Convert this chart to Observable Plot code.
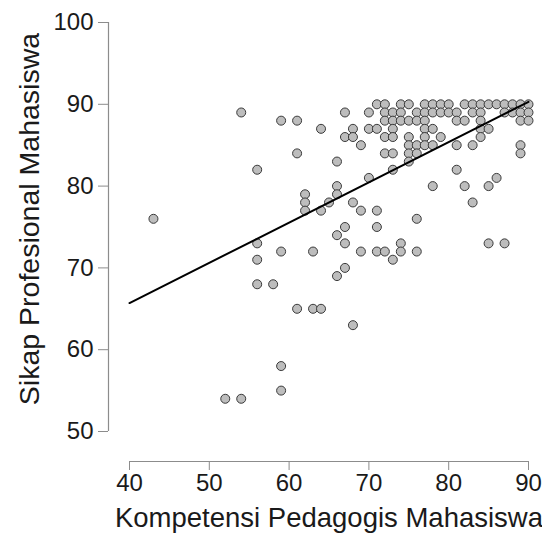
<!DOCTYPE html>
<html><head><meta charset="utf-8">
<script src="https://cdn.jsdelivr.net/npm/d3@7"></script>
<script src="https://cdn.jsdelivr.net/npm/@observablehq/plot@0.6"></script>
<style>body{margin:0;background:#fff}</style>
</head><body><div id="chart"></div>
<script>
// Kompetensi Pedagogis (x) and Sikap Profesional (y), listed row by row
const kompetensi = [
  71,72,74,75,77,78,79,80,82,83,84,85,86,87,88,89,90,      // 90
  54,67,70,72,73,74,76,77,78,79,80,81,83,84,87,88,89,90,   // 89
  59,61,72,73,74,75,76,77,81,82,84,89,90,                  // 88
  64,68,70,71,73,77,78,84,85,                              // 87
  67,68,72,73,75,77,79,84,                                 // 86
  69,75,76,77,78,81,83,89,                                 // 85
  61,72,73,75,76,89,                                       // 84
  66,75,                                                   // 83
  56,73,81,                                                // 82
  70,86,                                                   // 81
  66,78,82,85,                                             // 80
  62,66,                                                   // 79
  62,65,68,83,                                             // 78
  62,64,69,71,                                             // 77
  43,76,                                                   // 76
  67,71,                                                   // 75
  66,                                                      // 74
  56,67,74,85,87,                                          // 73
  59,63,69,71,72,74,76,                                    // 72
  56,73,                                                   // 71
  67,                                                      // 70
  66,                                                      // 69
  56,58,                                                   // 68
  61,63,64,                                                // 65
  68,                                                      // 63
  59,                                                      // 58
  59,                                                      // 55
  52,54                                                    // 54
];
const sikapRows = [90,89,88,87,86,85,84,83,82,81,80,79,78,77,76,75,74,73,72,71,70,69,68,65,63,58,55,54];
const rowCounts = [17,18,13,9,8,8,6,2,3,2,4,2,4,4,2,2,1,5,7,2,1,1,2,3,1,1,1,2];
const sikap = sikapRows.flatMap((v, i) => Array(rowCounts[i]).fill(v));

const xTicks = [40, 50, 60, 70, 80, 90];
const yTicks = [50, 60, 70, 80, 90, 100];
const fitX = [40, 90];
const fitY = [65.7, 90.3];

const points = kompetensi.map((x, i) => ({x, y: sikap[i]}));
const fit = fitX.map((x, i) => ({x, y: fitY[i]}));
const axisColor = "#8c8c8c";
const font = "'Liberation Sans', Arial, sans-serif";

const chart = Plot.plot({
  width: 542, height: 538,
  marginLeft: 129, marginRight: 14, marginTop: 22, marginBottom: 107,
  style: {fontFamily: font, background: "#fff", color: "#1a1a1a"},
  x: {domain: [40, 90]},
  y: {domain: [50, 100]},
  marks: [
    Plot.ruleX([40], {y1: 50, y2: 100, dx: -21, stroke: axisColor, strokeWidth: 1.2}),
    Plot.axisY(yTicks, {anchor: "left", dx: -21, tickSize: 10, tickPadding: 5, fontSize: 24, stroke: axisColor, fill: "#1a1a1a", label: null}),
    Plot.ruleY([50], {x1: 40, x2: 90, dy: 30, stroke: axisColor, strokeWidth: 1.2}),
    Plot.axisX(xTicks, {anchor: "bottom", dy: 30, tickSize: 9, tickPadding: 3, fontSize: 24, stroke: axisColor, fill: "#1a1a1a", label: null}),
    Plot.text(["Kompetensi Pedagogis Mahasiswa"], {frameAnchor: "bottom", dy: 95, fontSize: 27.5, fill: "#1a1a1a"}),
    Plot.text(["Sikap Profesional Mahasiswa"], {frameAnchor: "left", textAnchor: "middle", dx: -100, dy: -8, rotate: -90, fontSize: 28.5, fill: "#1a1a1a"}),
    Plot.dot(points, {x: "x", y: "y", r: 4.5, fill: "#bdbdbd", stroke: "#3a3a3a", strokeWidth: 1}),
    Plot.line(fit, {x: "x", y: "y", stroke: "#000", strokeWidth: 2})
  ]
});
document.getElementById("chart").appendChild(chart);
</script>
</body></html>
